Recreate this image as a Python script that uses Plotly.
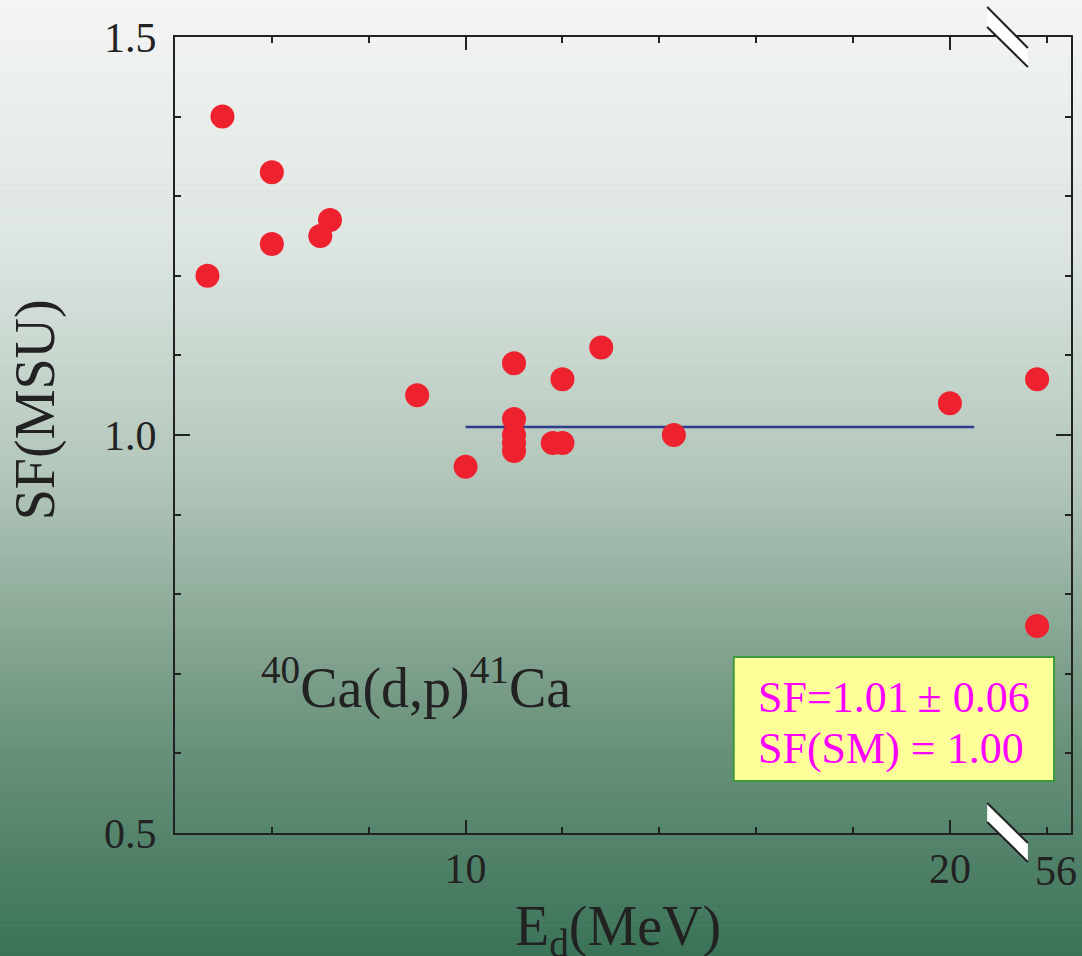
import plotly.graph_objects as go

# Spectroscopic factors for 40Ca(d,p)41Ca versus deuteron energy
E_d = [4.67, 4.98, 6.0, 6.0, 7.0, 7.2, 9.0, 10.0, 11.0, 11.0, 11.0, 11.0, 11.0,
       11.8, 12.0, 12.0, 12.8, 14.3, 20.0, 56.0, 56.0]
SF = [1.20, 1.40, 1.33, 1.24, 1.25, 1.27, 1.05, 0.96, 1.09, 1.02, 1.00, 0.99, 0.98,
      0.99, 0.99, 1.07, 1.11, 1.00, 1.04, 1.07, 0.76]

SF_MEAN = 1.01
SF_ERR = 0.06
SF_SM = 1.00
MEAN_RANGE = [10.0, 20.5]

X_TICKS = [10, 20]
Y_TICKS = [0.5, 1.0, 1.5]

# broken x axis: energies beyond the break are drawn in a slot past 21
BREAK_AT = 21.0
BREAK_SLOT = 21.8
BREAK_LABEL_POS = 22.2


def axis_x(e):
    return BREAK_SLOT if e > BREAK_AT else e


W, H = 1082, 956
ML, MR, MT, MB = 175, 9, 37, 123
PW, PH = W - ML - MR, H - MT - MB

FONT = "Liberation Serif"
INK = "#222222"

fig = go.Figure()

# page background gradient (light grey-green at top to dark green at bottom)
stops = [(0.0, (243, 245, 244)), (0.25, (222, 230, 226)), (0.5, (178, 198, 186)),
         (0.75, (112, 150, 128)), (1.0, (58, 115, 88))]


def grad(t):
    for (t0, c0), (t1, c1) in zip(stops[:-1], stops[1:]):
        if t <= t1:
            f = (t - t0) / (t1 - t0)
            return tuple(round(a + (b - a) * f) for a, b in zip(c0, c1))
    return stops[-1][1]


def py(p):
    # page pixel row -> paper y
    return (H - MB - p) / PH


def px(p):
    return (p - ML) / PW


n_bands = 160
band = H / n_bands
for i in range(n_bands):
    p0, p1 = i * band, (i + 1) * band + 0.6
    r, g, b = grad((i + 0.5) / n_bands)
    fig.add_shape(type="rect", xref="paper", yref="paper",
                  x0=-0.3, x1=1.1, y0=py(p1), y1=py(p0),
                  fillcolor=f"rgb({r},{g},{b})", line_width=0, layer="below")

# mean value line
fig.add_trace(go.Scatter(x=MEAN_RANGE, y=[SF_MEAN, SF_MEAN], mode="lines",
                         line=dict(color="#2e3a8c", width=2.5),
                         showlegend=False, hoverinfo="skip"))

# data points
fig.add_trace(go.Scatter(x=[axis_x(e) for e in E_d], y=SF, mode="markers",
                         marker=dict(size=24, color="#ee222e", line_width=0),
                         showlegend=False))

axis_common = dict(showline=True, linecolor=INK, linewidth=2, mirror="allticks",
                   ticks="inside", tickcolor=INK, tickwidth=2,
                   showgrid=False, zeroline=False,
                   tickfont=dict(family=FONT, size=42, color=INK))

fig.update_xaxes(range=[4, 22.5], tickvals=X_TICKS, ticktext=[str(v) for v in X_TICKS],
                 ticklen=13, ticklabelstandoff=-2,
                 minor=dict(dtick=2, tick0=0, ticks="inside", ticklen=6,
                            tickcolor=INK, tickwidth=2),
                 **axis_common)
fig.update_yaxes(range=[0.5, 1.5], tickvals=Y_TICKS, ticktext=[f"{v:.1f}" for v in Y_TICKS],
                 ticklen=15, ticklabelstandoff=8,
                 minor=dict(dtick=0.1, tick0=0, ticks="inside", ticklen=6,
                            tickcolor=INK, tickwidth=2),
                 **axis_common)

# axis break marks on the top and bottom axes
x_a, x_b = 20.77, 21.61
for (ya0, yb0, ya1, yb1) in [(py(7), py(48), py(27), py(67)),
                             (py(803), py(843), py(822), py(862))]:
    fig.add_shape(type="path", xref="x", yref="paper",
                  path=f"M {x_a} {ya0} L {x_b} {yb0} L {x_b} {yb1} L {x_a} {ya1} Z",
                  fillcolor="white", line_width=0, layer="above")
    fig.add_shape(type="line", xref="x", yref="paper", x0=x_a, y0=ya0, x1=x_b, y1=yb0,
                  line=dict(color=INK, width=2), layer="above")
    fig.add_shape(type="line", xref="x", yref="paper", x0=x_a, y0=ya1, x1=x_b, y1=yb1,
                  line=dict(color=INK, width=2), layer="above")

# label for the energy beyond the break
fig.add_annotation(x=BREAK_LABEL_POS, y=py(871), xref="x", yref="paper",
                   xanchor="center", yanchor="middle", text="56", showarrow=False,
                   font=dict(family=FONT, size=42, color=INK))

# axis titles
fig.add_annotation(x=px(35), y=py(410), xref="paper", yref="paper",
                   xanchor="center", yanchor="middle",
                   text="SF(MSU)", textangle=-90, showarrow=False,
                   font=dict(family=FONT, size=56, color=INK))
fig.add_annotation(x=px(619), y=py(930), xref="paper", yref="paper",
                   xanchor="center", yanchor="middle",
                   text="E<sub>d</sub>(MeV)", showarrow=False,
                   font=dict(family=FONT, size=56, color=INK))

# reaction label
fig.add_annotation(x=px(417), y=py(684), xref="paper", yref="paper",
                   xanchor="center", yanchor="middle",
                   text="<sup>40</sup>Ca(d,p)<sup>41</sup>Ca", showarrow=False,
                   font=dict(family=FONT, size=56, color=INK))

# result box
fig.add_shape(type="rect", xref="paper", yref="paper",
              x0=px(735), x1=px(1056), y0=py(781), y1=py(657),
              fillcolor="#ffff99", line=dict(color="#3c9a3c", width=2), layer="above")
box_lines = [f"SF={SF_MEAN:.2f}\u2009\u00b1 {SF_ERR:.2f}", f"SF(SM) = {SF_SM:.2f}"]
for txt, row in zip(box_lines, [697, 748]):
    fig.add_annotation(x=px(757), y=py(row), xref="paper", yref="paper",
                       xanchor="left", yanchor="middle", align="left",
                       text=txt, showarrow=False,
                       font=dict(family=FONT, size=44, color="#ff00ff"))

fig.update_layout(width=W, height=H, margin=dict(l=ML, r=MR, t=MT, b=MB),
                  paper_bgcolor="rgb(150,175,160)", plot_bgcolor="rgba(0,0,0,0)",
                  showlegend=False)

fig.write_html("out.html")
